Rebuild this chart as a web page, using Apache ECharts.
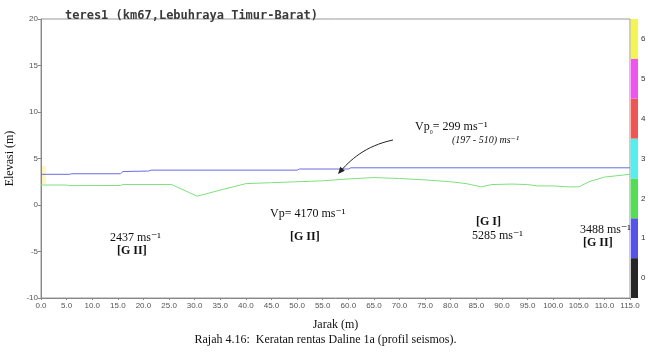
<!DOCTYPE html>
<html><head><meta charset="utf-8">
<script src="https://cdn.jsdelivr.net/npm/echarts@6/dist/echarts.min.js"></script>
<style>html,body{margin:0;padding:0;background:#fff}#c{width:651px;height:355px}</style>
</head><body><div id="c"></div>
<script>
// Data
var blueLine = [[0,3.3],[5.5,3.3],[6,3.36],[15.5,3.36],[16,3.6],[21,3.65],[21.5,3.75],[50,3.75],[50.5,3.87],[60,3.87],[60.5,4.0],[115,4.0]];
var greenLine = [[0,2.15],[5,2.15],[5.5,2.08],[15.5,2.1],[16,2.2],[25.5,2.2],[30.5,0.95],[35,1.6],[40,2.3],[45,2.4],[55,2.6],[60,2.8],[65,2.95],[70,2.85],[75,2.7],[80,2.5],[83,2.3],[86,1.95],[88,2.2],[92,2.25],[95,2.2],[97,2.05],[100,2.05],[103,1.95],[105,1.95],[107,2.5],[110,3.0],[115,3.3]];
var scaleLabels = ['0','1','2','3','4','5','6'];
var scaleValues = [1,1,1,1,1,1,1];
var scaleColors = ['#262626','#5454e6','#55dd55','#55eeee','#ee5555','#ee55ee','#f4f455'];
var xMin = 0, xMax = 115, xInterval = 5;
var yMin = -10, yMax = 20, yInterval = 5;

var serif = '"Liberation Serif","DejaVu Serif",serif';
var chart = echarts.init(document.getElementById('c'));
function txt(x, y, s, opt) {
  opt = opt || {};
  return {type:'text', left:x, top:y, z:10, style:{text:s, font:(opt.weight||'normal')+' '+(opt.style||'normal')+' '+(opt.size||12)+'px '+serif, fill:'#111'}};
}
// arrow geometry
var tip=[338,174], dir=[-0.65,0.76], perp=[0.76,0.65];
var base=[tip[0]-7*dir[0], tip[1]-7*dir[1]];
chart.setOption({
  animation:false,
  title:{text:'teres1 (km67,Lebuhraya Timur-Barat)', left:60, top:5,
    textStyle:{fontFamily:'"DejaVu Sans Mono",monospace', fontWeight:'bold', fontSize:12, color:'#3a3a3a'}},
  grid:[
    {left:41, top:19, width:589, height:279, show:true, borderColor:'#999', borderWidth:1, containLabel:false, outerBoundsMode:'none'},
    {left:631, top:19, width:7, height:279, containLabel:false, outerBoundsMode:'none'}
  ],
  xAxis:[
    {type:'value', gridIndex:0, min:xMin, max:xMax, interval:xInterval,
     axisLine:{onZero:false, lineStyle:{color:'#888'}}, axisTick:{show:true, length:2, lineStyle:{color:'#888'}},
     splitLine:{show:false},
     axisLabel:{fontSize:8, color:'#555', margin:4, formatter:function(v){return v.toFixed(1);}, hideOverlap:false},
     name:'Jarak (m)', nameLocation:'middle', nameGap:21,
     nameTextStyle:{fontFamily:serif, fontSize:12, color:'#111'}},
    {type:'value', gridIndex:1, min:0, max:1, show:false}
  ],
  yAxis:[
    {type:'value', gridIndex:0, min:yMin, max:yMax, interval:yInterval,
     axisLine:{show:true, onZero:false, lineStyle:{color:'#888'}}, axisTick:{show:true, length:3, lineStyle:{color:'#888'}},
     splitLine:{show:false},
     axisLabel:{fontSize:8, color:'#555', margin:3},
     name:'Elevasi (m)', nameLocation:'middle', nameGap:22,
     nameTextStyle:{fontFamily:serif, fontSize:12, color:'#111'}},
    {type:'category', gridIndex:1, data:scaleLabels, position:'right',
     axisLine:{show:false}, axisTick:{show:false},
     axisLabel:{fontSize:8, color:'#333', margin:3}}
  ],
  series:[
    {type:'line', xAxisIndex:0, yAxisIndex:0, data:blueLine, symbol:'none',
     lineStyle:{color:'#6b6be0', width:1}},
    {type:'line', xAxisIndex:0, yAxisIndex:0, data:greenLine, symbol:'none',
     lineStyle:{color:'#7ee07e', width:1}},
    {type:'bar', xAxisIndex:1, yAxisIndex:1, barCategoryGap:'0%', silent:true,
     data:scaleValues.map(function(v,i){return {value:v, itemStyle:{color:scaleColors[i]}};})}
  ],
  graphic:[
    {type:'rect', shape:{x:42, y:166, width:4, height:18}, style:{fill:'rgba(250,240,150,0.6)'}, z:1},
    {type:'text', left:415, top:121, z:10, style:{rich:{a:{font:'12px '+serif, fill:'#111'}, s:{font:'9px '+serif, fill:'#111', padding:[6,0,0,0]}}, text:'{a|Vp}{s|₀}{a|= 299 ms⁻¹}'}},
    txt(452, 135, '(197 - 510) ms⁻¹', {style:'italic', size:10}),
    {type:'bezierCurve', z:10, shape:{x1:393, y1:140, cpx1:365, cpy1:146, cpx2:350, cpy2:160, x2:tip[0]+1, y2:tip[1]-1}, style:{stroke:'#222', lineWidth:1, fill:null}},
    {type:'polygon', z:10, shape:{points:[tip,[base[0]+3*perp[0],base[1]+3*perp[1]],[base[0]-3*perp[0],base[1]-3*perp[1]]]}, style:{fill:'#222'}},
    txt(270, 208, 'Vp= 4170 ms⁻¹'),
    txt(290, 231, '[G II]', {weight:'bold'}),
    txt(110, 232, '2437 ms⁻¹'),
    txt(117, 245, '[G II]', {weight:'bold'}),
    txt(476, 216, '[G I]', {weight:'bold'}),
    txt(472, 230, '5285 ms⁻¹'),
    txt(580, 224, '3488 ms⁻¹'),
    txt(583, 237, '[G II]', {weight:'bold'}),
    {type:'text', left:'center', top:334, style:{text:'Rajah 4.16:  Keratan rentas Daline 1a (profil seismos).', font:'12px '+serif, fill:'#111'}}
  ]
});
</script></body></html>
